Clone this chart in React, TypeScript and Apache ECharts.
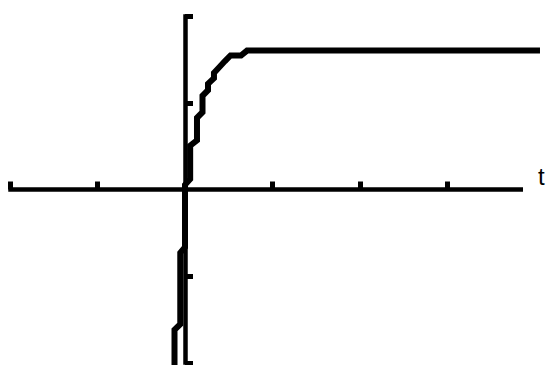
import React, { useEffect, useRef } from "react";
import * as echarts from "echarts";

// Curve (t, y)
const tValues = [-0.12, -0.12, -0.054, -0.054, 0, 0, 0.059, 0.059, 0.137, 0.137, 0.2, 0.2, 0.263, 0.263, 0.331, 0.331, 0.394, 0.457, 0.52, 0.64, 0.709, 4.057];
const yValues = [-2.104, -1.617, -1.553, -0.73, -0.665, 0.054, 0.119, 0.504, 0.568, 0.827, 0.891, 1.08, 1.145, 1.218, 1.283, 1.345, 1.412, 1.481, 1.545, 1.545, 1.602, 1.602];

const xTicks = [-2, -1, 1, 2, 3];
const yTicks = [-2, -1, 1, 2];
const xName = "t";

export default function App() {
  const ref = useRef<HTMLDivElement>(null);
  useEffect(() => {
    document.body.style.margin = "0";
    const chart = echarts.init(ref.current!, undefined, { renderer: "svg" });
    const data = tValues.map((t, i) => [t, yValues[i]]);
    chart.setOption({
      animation: false,
      backgroundColor: "#ffffff",
      grid: [
        { left: 8.25, top: 14.3, width: 514.75, height: 350.4, containLabel: false },
        { left: 8.25, top: 14.3, width: 535.5, height: 350.4, containLabel: false },
      ],
      xAxis: [
        {
          type: "value",
          gridIndex: 0,
          min: -2.02,
          max: 3.863,
          splitLine: { show: false },
          axisLabel: { show: false },
          axisLine: { onZero: true, lineStyle: { color: "#000", width: 4.6, cap: "butt" } },
          axisTick: { show: true, inside: true, length: 8, customValues: xTicks, lineStyle: { color: "#000", width: 5 } },
        },
        {
          type: "value",
          gridIndex: 1,
          min: -2.02,
          max: 4.1,
          show: false,
        },
      ],
      yAxis: [
        {
          type: "value",
          gridIndex: 0,
          min: -2.02,
          max: 2.02,
          splitLine: { show: false },
          axisLabel: { show: false },
          axisLine: { onZero: true, lineStyle: { color: "#000", width: 4.5, cap: "butt" } },
          axisTick: { show: true, inside: true, length: 8, customValues: yTicks, lineStyle: { color: "#000", width: 5 } },
        },
        {
          type: "value",
          gridIndex: 1,
          min: -2.02,
          max: 2.02,
          show: false,
        },
      ],
      graphic: [
        {
          type: "text",
          left: 538,
          top: 164,
          style: { text: xName, font: "24px 'Liberation Sans'", fill: "#000" },
        },
      ],
      series: [
        {
          type: "line",
          xAxisIndex: 1,
          yAxisIndex: 1,
          data,
          clip: false,
          showSymbol: false,
          symbol: "none",
          lineStyle: { color: "#000", width: 6, cap: "butt", join: "miter" },
        },
      ],
    });
    return () => chart.dispose();
  }, []);
  return <div ref={ref} style={{ width: 547, height: 365, position: "absolute", left: 0, top: 0 }} />;
}
